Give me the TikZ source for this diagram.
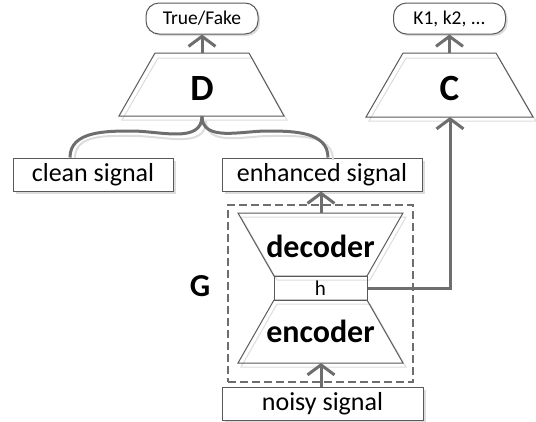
\documentclass[tikz,border=0pt]{standalone}
\usepackage{fontspec}
\setmainfont{Carlito}
\usetikzlibrary{arrows.meta,shadows}

\definecolor{linegray}{HTML}{6E6E6E}
\definecolor{boxgray}{HTML}{595959}
\definecolor{shadegray}{HTML}{DCDCDC}

\tikzset{
  sigbox/.style={draw=boxgray, fill=white, line width=1pt, minimum height=33, inner sep=0pt,
    font=\fontsize{26}{28}\selectfont,
    drop shadow={shadow xshift=3pt, shadow yshift=-3pt, fill=shadegray, opacity=1}},
  pill/.style={draw=boxgray, fill=white, line width=1pt, rounded corners=13pt, minimum width=112,
    minimum height=31, inner sep=0pt, font=\fontsize{19.5}{21}\selectfont,
    drop shadow={shadow xshift=2pt, shadow yshift=-2pt, fill=shadegray, opacity=1}},
  trap/.style={draw=boxgray, line width=1pt},
  trapshade/.style={draw=shadegray, line width=1pt},
  bigtxt/.style={font=\fontsize{37}{39}\selectfont\bfseries, inner sep=0pt},
  midtxt/.style={font=\fontsize{32}{34}\selectfont\bfseries, inner sep=0pt},
  conn/.style={draw=linegray, line width=3pt},
  arr/.style={conn, -{Straight Barb[length=10pt,width=27pt]}},
}

\begin{document}
\begin{tikzpicture}[x=1pt,y=-1pt]
  \useasboundingbox (0,0) rectangle (536,421);

  % output boxes
  \node[pill] (tf) at (202,18.5) {True/Fake};
  \node[pill] (ks) at (449.5,18.5) {K1, k2, ...};

  % D and C
  \draw[trapshade] (158,58) -- (252,58) -- (287,120) -- (122,120) -- cycle;
  \draw[trap] (155,53) -- (249,53) -- (284,116) -- (119,116) -- cycle;
  \node[bigtxt] (D) at (202,88) {D};
  \coordinate (Dtop) at (202,53);
  \coordinate (Dbot) at (202,116);

  \draw[trapshade] (406,58) -- (499,58) -- (536,121) -- (369,121) -- cycle;
  \draw[trap] (403,53) -- (496,53) -- (533,117) -- (366,117) -- cycle;
  \node[bigtxt] (C) at (449.5,88) {C};
  \coordinate (Ctop) at (449.5,53);
  \coordinate (Cbot) at (450,117);

  % signals
  \node[sigbox, minimum width=160] (clean) at (93,174.5) {clean signal};
  \node[sigbox, minimum width=200] (enh) at (322,174.5) {enhanced signal};
  \node[sigbox, minimum width=201] (noisy) at (322.5,403.5) {noisy signal};
  \coordinate (cl) at (70,157.5);
  \coordinate (en) at (328,157.5);

  % G
  \node[draw=linegray, dash pattern=on 8pt off 4pt, line width=1.2pt, minimum width=185,
    minimum height=177] (gbox) at (320.5,293.5) {};
  \node[midtxt] (G) at (200,286) {G};
  \draw[trapshade] (241,217) -- (406,217) -- (370,280) -- (277,280) -- cycle;
  \draw[trap] (238,213) -- (403,213) -- (367,276) -- (274,276) -- cycle;
  \draw[trapshade] (277,304) -- (370,304) -- (406,367) -- (241,367) -- cycle;
  \draw[trap] (274,300) -- (367,300) -- (403,363) -- (238,363) -- cycle;
  \node[draw=boxgray, line width=1pt, minimum width=93, minimum height=24, inner sep=0pt,
    font=\fontsize{21}{23}\selectfont] (h) at (320.5,288) {h};
  \node[midtxt] (dec) at (320.5,246) {decoder};
  \node[midtxt] (enc) at (320.5,331) {encoder};
  \coordinate (dectop) at (321,213);
  \coordinate (encbot) at (321,363);

  % connectors
  \draw[draw=shadegray, line width=2pt] (75,158) to[out=90,in=180] (135,136) to[out=0,in=-90] (206,121);
  \draw[draw=shadegray, line width=2pt] (206,121) to[out=-90,in=180] (270,136) to[out=0,in=90] (333,160);
  \draw[conn] (cl) to[out=90,in=180] (132,131) to[out=0,in=-90] (Dbot);
  \draw[conn] (Dbot) to[out=-90,in=180] (267,131) to[out=0,in=90] (en);
  \draw[arr] (Dtop) -- (tf.south);
  \draw[arr] (Ctop) -- (ks.south);
  \draw[arr] (noisy.north -| encbot) -- (encbot);
  \draw[arr] (dectop) -- (enh.south -| dectop);
  \draw[arr] (h.east) -- (h.east -| Cbot) -- (Cbot);
\end{tikzpicture}
\end{document}
